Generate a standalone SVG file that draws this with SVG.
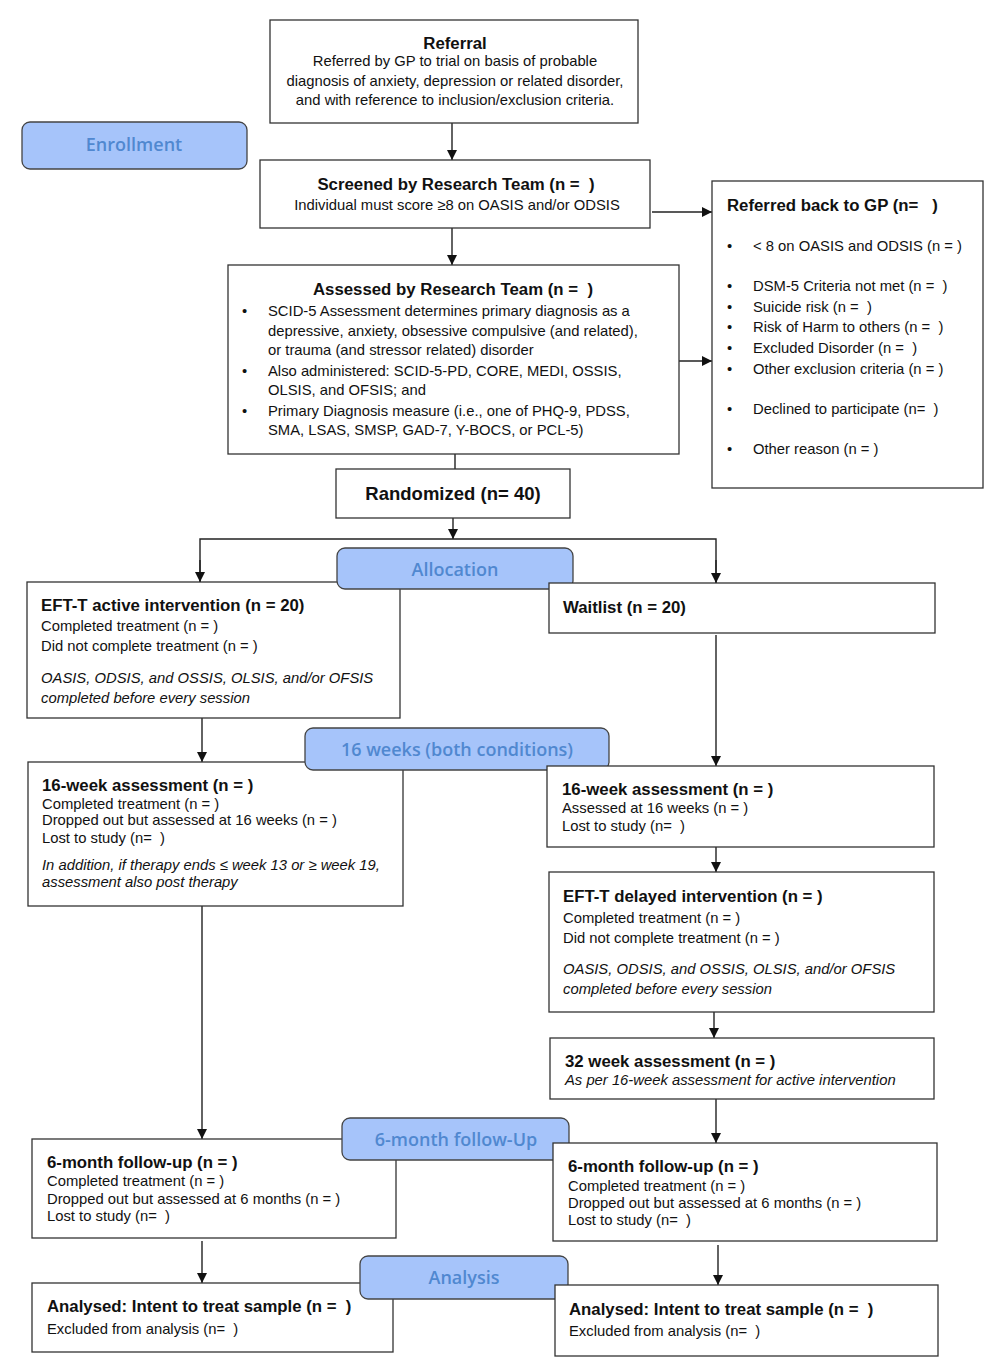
<svg xmlns="http://www.w3.org/2000/svg" width="1000" height="1372" viewBox="0 0 1000 1372">
<defs>
<marker id="ah" viewBox="0 0 10 10" refX="10" refY="5" markerWidth="10" markerHeight="10" markerUnits="userSpaceOnUse" orient="auto"><path d="M0,0 L10,5 L0,10 z" fill="#111"/></marker>
<style>
.box{fill:#fff;stroke:#333;stroke-width:1.3}
.lab{fill:#a6c4fa;stroke:#444;stroke-width:1.3}
.lt{font-family:"Open Sans","Liberation Sans",sans-serif;font-weight:600;font-size:18px;fill:#5088d0;text-anchor:middle}
text{font-family:"Liberation Sans",Arial,sans-serif;fill:#111;white-space:pre}
.t{font-size:14.8px}
.b{font-size:16.8px;font-weight:bold}
.i{font-size:14.8px;font-style:italic}
.c{text-anchor:middle}
.cn{fill:none;stroke:#222;stroke-width:1.4}
</style>
</defs>
<rect width="1000" height="1372" fill="#fff"/>
<g id="connectors">
<line class="cn" x1="452" y1="123" x2="452" y2="160" marker-end="url(#ah)"/>
<line class="cn" x1="652" y1="212" x2="712" y2="212" marker-end="url(#ah)"/>
<line class="cn" x1="452" y1="228" x2="452" y2="265" marker-end="url(#ah)"/>
<line class="cn" x1="679" y1="361" x2="712" y2="361" marker-end="url(#ah)"/>
<line class="cn" x1="455" y1="454" x2="455" y2="469"/>
<line class="cn" x1="453" y1="518" x2="453" y2="539" marker-end="url(#ah)"/>
<polyline class="cn" points="200,582 200,539 716,539 716,583"/>
<line class="cn" x1="200" y1="560" x2="200" y2="582" marker-end="url(#ah)"/>
<line class="cn" x1="716" y1="560" x2="716" y2="583" marker-end="url(#ah)"/>
<line class="cn" x1="716" y1="635" x2="716" y2="766" marker-end="url(#ah)"/>
<line class="cn" x1="202" y1="718" x2="202" y2="762" marker-end="url(#ah)"/>
<line class="cn" x1="716" y1="847" x2="716" y2="872" marker-end="url(#ah)"/>
<line class="cn" x1="714" y1="1012" x2="714" y2="1038" marker-end="url(#ah)"/>
<line class="cn" x1="716" y1="1099" x2="716" y2="1143" marker-end="url(#ah)"/>
<line class="cn" x1="202" y1="906" x2="202" y2="1139" marker-end="url(#ah)"/>
<line class="cn" x1="202" y1="1241" x2="202" y2="1283" marker-end="url(#ah)"/>
<line class="cn" x1="718" y1="1245" x2="718" y2="1285" marker-end="url(#ah)"/>
</g>
<g id="referral">
<rect class="box" x="270" y="20" width="368" height="103"/>
<text class="b c" x="455" y="49">Referral</text>
<text class="t c" x="455" y="66">Referred by GP to trial on basis of probable</text>
<text class="t c" x="455" y="86">diagnosis of anxiety, depression or related disorder,</text>
<text class="t c" x="455" y="105">and with reference to inclusion/exclusion criteria.</text>
</g>
<g id="enrollment">
<rect class="lab" x="22" y="122" width="225" height="47" rx="8"/>
<text class="lt" x="134" y="151">Enrollment</text>
</g>
<g id="screened">
<rect class="box" x="260" y="160" width="390" height="68"/>
<text class="b c" x="456" y="190">Screened by Research Team (n =  )</text>
<text class="t c" x="457" y="210">Individual must score ≥8 on OASIS and/or ODSIS</text>
</g>
<g id="referred-back">
<rect class="box" x="712" y="181" width="271" height="307"/>
<text class="b" x="727" y="211">Referred back to GP (n=   )</text>
<g class="t">
<text x="727" y="251">•</text><text x="753" y="251">&lt; 8 on OASIS and ODSIS (n = )</text>
<text x="727" y="291">•</text><text x="753" y="291">DSM-5 Criteria not met (n =  )</text>
<text x="727" y="312">•</text><text x="753" y="312">Suicide risk (n =  )</text>
<text x="727" y="332">•</text><text x="753" y="332">Risk of Harm to others (n =  )</text>
<text x="727" y="353">•</text><text x="753" y="353">Excluded Disorder (n =  )</text>
<text x="727" y="374">•</text><text x="753" y="374">Other exclusion criteria (n = )</text>
<text x="727" y="414">•</text><text x="753" y="414">Declined to participate (n=  )</text>
<text x="727" y="454">•</text><text x="753" y="454">Other reason (n = )</text>
</g>
</g>
<g id="assessed">
<rect class="box" x="228" y="265" width="451" height="189"/>
<text class="b c" x="453" y="295">Assessed by Research Team (n =  )</text>
<g class="t">
<text x="242" y="316">•</text><text x="268" y="316">SCID-5 Assessment determines primary diagnosis as a</text>
<text x="268" y="336">depressive, anxiety, obsessive compulsive (and related),</text>
<text x="268" y="355">or trauma (and stressor related) disorder</text>
<text x="242" y="376">•</text><text x="268" y="376">Also administered: SCID-5-PD, CORE, MEDI, OSSIS,</text>
<text x="268" y="395">OLSIS, and OFSIS; and</text>
<text x="242" y="416">•</text><text x="268" y="416">Primary Diagnosis measure (i.e., one of PHQ-9, PDSS,</text>
<text x="268" y="435">SMA, LSAS, SMSP, GAD-7, Y-BOCS, or PCL-5)</text>
</g>
</g>
<g id="randomized">
<rect class="box" x="336" y="469" width="234" height="49"/>
<text class="b c" x="453" y="500" style="font-size:18.5px">Randomized (n= 40)</text>
</g>
<g id="eft-active">
<rect class="box" x="27" y="582" width="373" height="136"/>
<text class="b" x="41" y="611">EFT-T active intervention (n = 20)</text>
<text class="t" x="41" y="631">Completed treatment (n = )</text>
<text class="t" x="41" y="651">Did not complete treatment (n = )</text>
<text class="i" x="41" y="683">OASIS, ODSIS, and OSSIS, OLSIS, and/or OFSIS</text>
<text class="i" x="41" y="703">completed before every session</text>
</g>
<g id="allocation">
<rect class="lab" x="337" y="548" width="236" height="41" rx="8"/>
<text class="lt" x="455" y="576">Allocation</text>
</g>
<g id="waitlist">
<rect class="box" x="549" y="583" width="386" height="50"/>
<text class="b" x="563" y="613">Waitlist (n = 20)</text>
</g>
<g id="week16-active">
<rect class="box" x="28" y="762" width="375" height="144"/>
<text class="b" x="42" y="791">16-week assessment (n = )</text>
<text class="t" x="42" y="809">Completed treatment (n = )</text>
<text class="t" x="42" y="825">Dropped out but assessed at 16 weeks (n = )</text>
<text class="t" x="42" y="843">Lost to study (n=  )</text>
<text class="i" x="42" y="870">In addition, if therapy ends ≤ week 13 or ≥ week 19,</text>
<text class="i" x="42" y="887">assessment also post therapy</text>
</g>
<g id="weeks16-label">
<rect class="lab" x="305" y="728" width="304" height="42" rx="8"/>
<text class="lt" x="457" y="756">16 weeks (both conditions)</text>
</g>
<g id="week16-wait">
<rect class="box" x="547" y="766" width="387" height="81"/>
<text class="b" x="562" y="795">16-week assessment (n = )</text>
<text class="t" x="562" y="813">Assessed at 16 weeks (n = )</text>
<text class="t" x="562" y="831">Lost to study (n=  )</text>
</g>
<g id="eft-delayed">
<rect class="box" x="549" y="872" width="385" height="140"/>
<text class="b" x="563" y="902">EFT-T delayed intervention (n = )</text>
<text class="t" x="563" y="923">Completed treatment (n = )</text>
<text class="t" x="563" y="943">Did not complete treatment (n = )</text>
<text class="i" x="563" y="974">OASIS, ODSIS, and OSSIS, OLSIS, and/or OFSIS</text>
<text class="i" x="563" y="994">completed before every session</text>
</g>
<g id="week32">
<rect class="box" x="550" y="1038" width="384" height="61"/>
<text class="b" x="565" y="1067">32 week assessment (n = )</text>
<text class="i" x="565" y="1085">As per 16-week assessment for active intervention</text>
</g>
<g id="followup-active">
<rect class="box" x="32" y="1139" width="364" height="99"/>
<text class="b" x="47" y="1168">6-month follow-up (n = )</text>
<text class="t" x="47" y="1186">Completed treatment (n = )</text>
<text class="t" x="47" y="1204">Dropped out but assessed at 6 months (n = )</text>
<text class="t" x="47" y="1221">Lost to study (n=  )</text>
</g>
<g id="followup-label">
<rect class="lab" x="342" y="1118" width="227" height="42" rx="8"/>
<text class="lt" x="456" y="1146">6-month follow-Up</text>
</g>
<g id="followup-wait">
<rect class="box" x="553" y="1143" width="384" height="98"/>
<text class="b" x="568" y="1172">6-month follow-up (n = )</text>
<text class="t" x="568" y="1191">Completed treatment (n = )</text>
<text class="t" x="568" y="1208">Dropped out but assessed at 6 months (n = )</text>
<text class="t" x="568" y="1225">Lost to study (n=  )</text>
</g>
<g id="analysed-active">
<rect class="box" x="32" y="1283" width="361" height="69"/>
<text class="b" x="47" y="1312">Analysed: Intent to treat sample (n =  )</text>
<text class="t" x="47" y="1334">Excluded from analysis (n=  )</text>
</g>
<g id="analysis-label">
<rect class="lab" x="360" y="1256" width="208" height="43" rx="8"/>
<text class="lt" x="464" y="1284">Analysis</text>
</g>
<g id="analysed-wait">
<rect class="box" x="555" y="1285" width="383" height="71"/>
<text class="b" x="569" y="1315">Analysed: Intent to treat sample (n =  )</text>
<text class="t" x="569" y="1336">Excluded from analysis (n=  )</text>
</g>
</svg>
